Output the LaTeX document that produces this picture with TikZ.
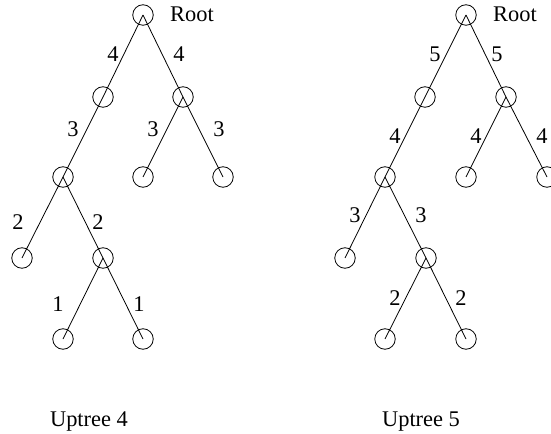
\documentclass[tikz,border=0pt]{standalone}
\usepackage{fontspec}
\setmainfont{Liberation Serif}
\begin{document}
\begin{tikzpicture}[x=1bp,y=-1bp,
  vert/.style={circle,draw,line width=0.8bp,minimum size=20.5bp,inner sep=0pt},
  edge/.style={line width=0.8bp},
  wt/.style={font=\fontsize{22.5}{26}\selectfont,inner sep=0pt},
  caption/.style={font=\fontsize{22.5}{26}\selectfont,inner sep=0pt,anchor=base}]
\clip (0,0) rectangle (551,434);
\useasboundingbox (0,0) rectangle (551,434);

% ---- Uptree 4 ----
\node[vert] (a0) at (143,15) {};
\node[vert] (a1) at (103,97) {};
\node[vert] (a2) at (183,97) {};
\node[vert] (a3) at (63,177) {};
\node[vert] (a4) at (143,177) {};
\node[vert] (a5) at (223,177) {};
\node[vert] (a6) at (22,258) {};
\node[vert] (a7) at (103,258) {};
\node[vert] (a8) at (63,339) {};
\node[vert] (a9) at (143,339) {};
\foreach \p/\c in {a0/a1,a0/a2,a1/a3,a2/a4,a2/a5,a3/a6,a3/a7,a7/a8,a7/a9}
  \draw[edge] (\p.center) -- (\c.center);
\node[wt] (ra) at (192,14) {Root};
\node[wt] (wa1) at (113,54) {4};
\node[wt] (wa2) at (179,54) {4};
\node[wt] (wa3) at (73,129) {3};
\node[wt] (wa4) at (153,129) {3};
\node[wt] (wa5) at (219,129) {3};
\node[wt] (wa6) at (18,222) {2};
\node[wt] (wa7) at (98,222) {2};
\node[wt] (wa8) at (58,304) {1};
\node[wt] (wa9) at (139,304) {1};
\node[caption] (ca) at (89,426) {Uptree 4};

% ---- Uptree 5 ----
\node[vert] (b0) at (466,15) {};
\node[vert] (b1) at (425,97) {};
\node[vert] (b2) at (506,97) {};
\node[vert] (b3) at (385,177) {};
\node[vert] (b4) at (466,177) {};
\node[vert] (b5) at (547,177) {};
\node[vert] (b6) at (345,258) {};
\node[vert] (b7) at (426,258) {};
\node[vert] (b8) at (385,339) {};
\node[vert] (b9) at (466,339) {};
\foreach \p/\c in {b0/b1,b0/b2,b1/b3,b2/b4,b2/b5,b3/b6,b3/b7,b7/b8,b7/b9}
  \draw[edge] (\p.center) -- (\c.center);
\node[wt] (rb) at (515,14) {Root};
\node[wt] (wb1) at (435,54) {5};
\node[wt] (wb2) at (497,54) {5};
\node[wt] (wb3) at (395,136) {4};
\node[wt] (wb4) at (476,136) {4};
\node[wt] (wb5) at (542,136) {4};
\node[wt] (wb6) at (355,215) {3};
\node[wt] (wb7) at (421,215) {3};
\node[wt] (wb8) at (395,298) {2};
\node[wt] (wb9) at (461,298) {2};
\node[caption] (cb) at (421,426) {Uptree 5};
\end{tikzpicture}
\end{document}
